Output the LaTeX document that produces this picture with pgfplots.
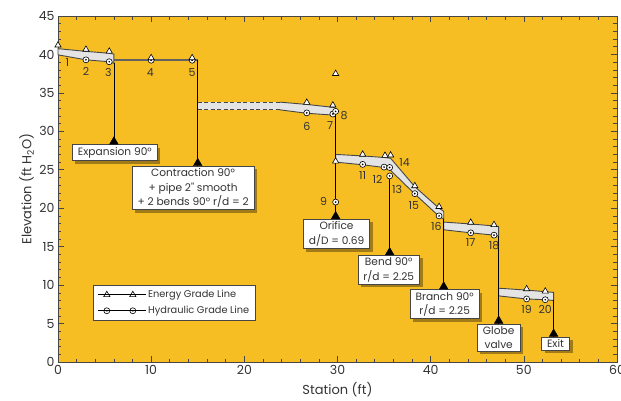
\documentclass[border=0pt]{standalone}
\usepackage{fontspec}
\setmainfont{Poppins}
\usepackage{pgfplots}
\pgfplotsset{compat=1.18}
\usetikzlibrary{shadows}
\definecolor{bg}{RGB}{247,190,36}
\definecolor{band}{RGB}{228,228,228}
\definecolor{edge}{RGB}{70,70,70}
\definecolor{txt}{RGB}{51,51,51}
\pgfdeclareplotmark{odot}{%
  \pgfpathcircle{\pgfpointorigin}{\pgfplotmarksize}%
  \pgfusepathqfillstroke
  \begin{pgfscope}%
  \pgfsetfillcolor{black}%
  \pgfpathcircle{\pgfpointorigin}{0.32\pgfplotmarksize}%
  \pgfusepathqfill
  \end{pgfscope}%
}
\tikzset{
  lbl/.style={font=\fontsize{11}{12}\selectfont, text=txt, inner sep=1pt},
  box/.style={draw=edge, line width=0.7pt, fill=white, anchor=north, align=center,
    font=\fontsize{10.6}{14.3}\selectfont, text=txt, inner xsep=5.5pt, inner ysep=2.5pt,
    drop shadow={shadow xshift=3pt, shadow yshift=-3pt, fill=black, opacity=0.35}},
  vline/.style={black, line width=0.7pt},
}
\begin{document}
\begin{tikzpicture}
\begin{axis}[name=ax, scale only axis, width=559pt, height=346pt,
  xmin=0, xmax=60, ymin=0, ymax=45,
  xtick={0,10,...,60}, ytick={0,5,...,45},
  minor x tick num=4, minor y tick num=4,
  axis background/.style={fill=bg},
  tick align=inside, major tick length=6pt, minor tick length=3.5pt,
  every tick/.style={edge, line width=0.6pt},
  axis line style={edge, line width=0.8pt},
  tick label style={font=\fontsize{12.5}{14}\selectfont, text=txt},
  /pgf/number format/assume math mode=true,
  xlabel={Station (ft)}, ylabel={Elevation (ft H\textsubscript{2}O)},
  label style={font=\fontsize{13}{15}\selectfont, text=txt},
  xlabel shift=1pt, ylabel shift=-2pt,
  clip=false,
  legend style={draw=edge, line width=0.6pt, fill=white, at={(rel axis cs:0.063,0.2225)}, anchor=north west,
    font=\fontsize{9.8}{11}\selectfont, text=txt, row sep=3pt, inner xsep=4pt, inner ysep=3pt},
  legend cell align=left,
  legend image code/.code={%
    \draw[#1, mark=none, line width=0.6pt] (0pt,0pt) -- (42pt,0pt);
    \path[#1] plot[only marks] coordinates {(9pt,0pt) (35pt,0pt)};
    \path (0pt,0pt) -- (48pt,0pt);},
]
\addlegendimage{black, mark=triangle*, mark size=3.6pt, mark options={fill=white, draw=black, line width=0.6pt}}
\addlegendentry{Energy Grade Line\hspace{22pt}}
\addlegendimage{black, mark=odot, mark size=3pt, mark options={fill=white, draw=black, line width=0.6pt}}
\addlegendentry{Hydraulic Grade Line\hspace{22pt}}

% band A
\addplot[fill=band, draw=edge, line width=0.9pt] coordinates {
 (0,40.75) (3,40.4) (5.5,40.15) (6,40.05) (6,38.85) (5.5,39.05) (3,39.3) (0,39.95)} -- cycle;
% zero-width band 6-15
\addplot[color=edge!85, line width=2.4pt] coordinates {(6,39.3) (15,39.3)};
% band B
\addplot[fill=band, draw=none] coordinates {
 (15,33.8) (23.8,33.8) (26.7,33.5) (29.7,33.1) (29.7,32.1) (26.7,32.35) (23.8,32.8) (15,32.8)} -- cycle;
\addplot[edge, line width=0.9pt, dash pattern=on 4pt off 2.5pt] coordinates {(15,33.8) (23.8,33.8)};
\addplot[edge, line width=0.9pt, dash pattern=on 4pt off 2.5pt] coordinates {(15,32.8) (23.8,32.8)};
\addplot[edge, line width=0.9pt] coordinates {(23.8,33.8) (26.7,33.5) (29.7,33.1)};
\addplot[edge, line width=0.9pt] coordinates {(23.8,32.8) (26.7,32.35) (29.7,32.1)};
% band C
\addplot[fill=band, draw=edge, line width=0.9pt] coordinates {
 (29.8,27.0) (32.7,26.8) (35.0,26.6) (35.7,26.5) (38.3,22.8) (40.9,20.0) (41.4,19.6)
 (41.4,18.6) (40.9,18.95) (38.3,21.85) (35.5,25.15) (35.0,25.3) (32.7,25.65) (29.8,26.0)} -- cycle;
% band D
\addplot[fill=band, draw=edge, line width=0.9pt] coordinates {
 (41.4,18.2) (44.3,17.95) (46.8,17.7) (47.3,17.6) (47.3,16.4) (46.8,16.5) (44.3,16.8) (41.4,17.2)} -- cycle;
% band E
\addplot[fill=band, draw=edge, line width=0.9pt] coordinates {
 (47.3,9.6) (50.3,9.35) (52.3,9.15) (53.2,9.05) (53.2,8.0) (52.3,8.1) (50.3,8.2) (47.3,8.6)} -- cycle;

% vertical lines to fittings
\addplot[vline] coordinates {(6,38.85) (6,28.3)};
\addplot[vline] coordinates {(15,39.3) (15,25.5)};
\addplot[vline] coordinates {(29.8,32.2) (29.8,18.6)};
\addplot[vline] coordinates {(35.6,24.2) (35.6,13.9)};
\addplot[vline] coordinates {(41.4,18.6) (41.4,9.45)};
\addplot[vline] coordinates {(47.3,16.4) (47.3,5.0)};
\addplot[vline] coordinates {(53.2,8.0) (53.2,3.3)};
\addplot[only marks, mark=triangle*, mark size=5pt, mark options={fill=black, draw=black}] coordinates {
 (6,28.65) (15,25.85) (29.8,18.95) (35.6,14.25) (41.4,9.8) (47.3,5.35) (53.2,3.65)};

% EGL markers
\addplot[only marks, mark=triangle*, mark size=3.6pt, mark options={fill=white, draw=black, line width=0.6pt}] coordinates {
 (0,41.2) (3,40.65) (5.5,40.4) (26.7,33.75) (29.5,33.4) (29.8,37.5) (29.8,26.1)
 (32.7,27.0) (35.1,26.85) (35.7,26.9) (38.3,22.9) (40.9,20.2) (44.3,18.15) (46.8,17.85) (50.3,9.5) (52.3,9.2)};
% HGL markers
\addplot[only marks, mark=odot, mark size=3pt, mark options={fill=white, draw=black, line width=0.6pt}] coordinates {
 (3,39.3) (5.5,39.05) (10,39.25) (14.4,39.25) (26.7,32.4) (29.5,32.25) (29.8,32.6) (29.8,20.8)
 (32.7,25.7) (35.0,25.35) (35.6,25.3) (35.6,24.2) (38.3,21.9) (40.9,19.0) (44.3,16.8) (46.8,16.5) (50.3,8.2) (52.3,8.1)};
\addplot[only marks, mark=triangle*, mark size=3.6pt, mark options={fill=white, draw=black, line width=0.6pt}] coordinates {
 (10,39.55) (14.4,39.55)};

% point labels
\node[lbl] at (axis cs:1.0,39.0) {1};
\node[lbl] at (axis cs:3.0,37.8) {2};
\node[lbl] at (axis cs:5.4,37.6) {3};
\node[lbl] at (axis cs:9.9,37.7) {4};
\node[lbl] at (axis cs:14.4,37.6) {5};
\node[lbl] at (axis cs:26.7,30.7) {6};
\node[lbl] at (axis cs:29.2,30.7) {7};
\node[lbl] at (axis cs:30.7,32.0) {8};
\node[lbl] at (axis cs:28.5,20.9) {9};
\node[lbl] at (axis cs:32.7,24.3) {11};
\node[lbl] at (axis cs:34.3,23.8) {12};
\node[lbl] at (axis cs:36.4,22.5) {13};
\node[lbl] at (axis cs:37.2,26.0) {14};
\node[lbl] at (axis cs:38.2,20.3) {15};
\node[lbl] at (axis cs:40.6,17.6) {16};
\node[lbl] at (axis cs:44.3,15.6) {17};
\node[lbl] at (axis cs:46.8,15.2) {18};
\node[lbl] at (axis cs:50.3,6.8) {19};
\node[lbl] at (axis cs:52.3,6.8) {20};

% fitting boxes
\node[box] at (axis cs:6.1,28.3) {Expansion 90°};
\node[box] at (axis cs:14.5,25.5) {Contraction 90°\\+ pipe 2\textquotedbl{} smooth\\+ 2 bends 90° r/d = 2};
\node[box] at (axis cs:29.9,18.6) {Orifice\\d/D = 0.69};
\node[box] at (axis cs:35.5,13.9) {Bend 90°\\r/d = 2.25};
\node[box] at (axis cs:41.5,9.45) {Branch 90°\\r/d = 2.25};
\node[box] at (axis cs:47.3,5.0) {Globe\\valve};
\node[box] at (axis cs:53.4,3.3) {Exit};
\end{axis}
\pgfresetboundingbox
\path[use as bounding box] (ax.south west) ++(-58pt,-38pt) rectangle ++(621pt,400pt);
\end{tikzpicture}
\end{document}
